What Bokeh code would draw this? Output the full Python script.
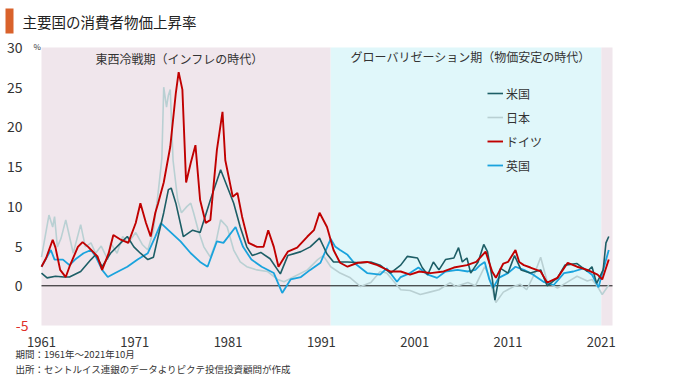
from bokeh.plotting import figure
from bokeh.models import BoxAnnotation, Label, Legend, LegendItem, FixedTicker, Range1d
from bokeh.embed import file_html
from bokeh.resources import INLINE

# ---- data ----
us_year = [1961.0, 1961.6, 1962.5, 1963.4, 1964.0, 1965.2, 1966.3, 1966.8, 1967.5, 1968.4,
           1969.5, 1970.2, 1970.9, 1971.6, 1972.4, 1973.0, 1973.5, 1974.1, 1974.6, 1974.9,
           1975.4, 1976.2, 1977.2, 1978.0, 1979.1, 1980.2, 1980.9, 1981.6, 1982.3, 1983.0,
           1983.6, 1984.5, 1985.5, 1986.6, 1987.4, 1988.8, 1989.8, 1990.8, 1991.6, 1992.3,
           1993.8, 1995.2, 1996.3, 1997.3, 1998.4, 1999.5, 2000.2, 2001.3, 2001.8, 2002.4,
           2003.0, 2003.6, 2004.3, 2005.2, 2005.7, 2006.1, 2006.6, 2007.0, 2007.8, 2008.4,
           2008.8, 2009.3, 2009.6, 2010.2, 2011.0, 2011.7, 2012.4, 2013.4, 2014.5, 2015.2,
           2016.3, 2017.1, 2018.4, 2019.5, 2020.0, 2020.5, 2021.2, 2021.5, 2021.8]
us_val = [1.6, 1.0, 1.2, 1.1, 1.1, 1.8, 3.3, 3.9, 2.4, 4.1,
          5.4, 6.2, 4.9, 4.1, 3.3, 3.6, 6.2, 9.2, 12.1, 12.3,
          10.4, 6.2, 7.0, 6.7, 10.8, 14.6, 12.5, 10.4, 7.4, 4.9,
          3.8, 4.2, 3.4, 1.5, 3.8, 4.3, 4.9, 6.0, 4.0, 3.0,
          3.0, 2.9, 3.0, 2.6, 1.6, 2.6, 3.7, 3.5, 2.3, 1.4,
          3.0, 2.0, 3.3, 3.5, 4.8, 3.0, 3.5, 1.6, 3.0, 5.2,
          4.3, 1.0, -1.8, 2.2, 1.6, 3.8, 2.0, 1.6, 2.0, 0.0,
          1.0, 2.6, 2.8, 1.8, 2.4, 0.3, 2.0, 5.4, 6.2]

jp_year = [1961.0, 1961.8, 1962.2, 1962.4, 1962.7, 1963.1, 1963.6, 1964.0, 1964.4, 1965.2,
           1965.7, 1966.3, 1966.8, 1967.4, 1968.1, 1968.4, 1969.1, 1969.7, 1970.3, 1971.1,
           1971.8, 1972.4, 1973.0, 1973.5, 1973.9, 1974.1, 1974.4, 1974.6, 1974.8, 1975.1,
           1975.6, 1976.0, 1976.6, 1977.0, 1977.3, 1977.8, 1978.4, 1979.1, 1979.7, 1980.2,
           1980.6, 1980.9, 1981.6, 1982.3, 1983.0, 1984.1, 1985.2, 1986.3, 1987.0, 1988.0,
           1989.5, 1990.6, 1991.2, 1992.0, 1993.0, 1994.1, 1995.2, 1996.3, 1997.3, 1998.0,
           1999.5, 2000.5, 2001.6, 2002.6, 2003.6, 2004.8, 2005.4, 2006.7, 2007.5, 2008.5,
           2008.9, 2009.7, 2010.5, 2011.6, 2012.3, 2013.0, 2013.8, 2014.5, 2015.2, 2016.3,
           2017.4, 2018.4, 2019.5, 2020.0, 2020.6, 2021.1, 2021.8]
jp_val = [3.6, 8.9, 7.4, 8.7, 4.9, 6.0, 8.3, 6.2, 4.1, 7.7,
          4.9, 5.4, 4.1, 5.0, 3.3, 5.4, 4.1, 6.2, 5.4, 6.7,
          5.2, 4.5, 7.0, 11.7, 16.0, 25.0, 22.5, 24.0, 24.7, 15.8,
          10.8, 9.2, 10.0, 10.4, 9.2, 7.0, 4.9, 3.6, 5.5, 8.3,
          7.8, 7.4, 4.5, 3.0, 2.4, 2.0, 1.8, 0.8, 0.5, 1.1,
          2.0, 3.3, 3.8, 2.4, 1.6, 1.0, -0.1, 0.4, 1.8, 1.6,
          -0.5, -0.6, -1.1, -0.8, -0.5, 0.4, -0.1, 0.4, 0.0, 2.4,
          1.4, -2.1, -0.8, -0.1, 0.2, -0.5, 1.4, 3.6, 0.5, -0.3,
          0.5, 1.2, 0.6, 0.8, -0.1, -1.1, 0.1]

de_year = [1961.0, 1961.5, 1962.2, 1962.5, 1963.0, 1963.6, 1964.0, 1964.9, 1965.4, 1966.0,
           1967.0, 1967.5, 1968.2, 1968.7, 1969.5, 1970.3, 1971.1, 1971.6, 1972.2, 1972.7,
           1973.2, 1973.5, 1974.1, 1974.8, 1975.4, 1975.7, 1976.1, 1976.5, 1977.0, 1977.5,
           1978.0, 1978.6, 1979.1, 1979.8, 1980.4, 1980.7, 1981.5, 1982.0, 1982.5, 1983.2,
           1984.1, 1984.8, 1985.3, 1985.9, 1986.4, 1987.4, 1988.4, 1989.5, 1990.2, 1990.8,
           1991.6, 1992.3, 1993.0, 1993.8, 1994.9, 1995.9, 1997.0, 1998.4, 1999.5, 2000.5,
           2001.5, 2002.7, 2004.1, 2005.2, 2006.6, 2007.6, 2008.6, 2009.3, 2009.7, 2010.5,
           2011.0, 2011.8, 2012.2, 2012.7, 2013.4, 2014.5, 2015.2, 2016.3, 2017.4, 2018.4,
           2019.5, 2020.6, 2021.1, 2021.8]
de_val = [2.4, 3.5, 5.8, 4.8, 2.0, 1.1, 2.4, 4.9, 5.5, 4.9,
          3.7, 2.0, 4.1, 6.4, 5.8, 5.4, 7.9, 10.4, 7.9, 6.2,
          9.2, 10.4, 13.0, 17.5, 24.3, 26.9, 24.7, 13.0, 15.5, 17.7,
          10.8, 7.9, 8.3, 17.1, 21.9, 15.8, 11.2, 11.7, 8.7, 5.4,
          4.9, 4.9, 7.0, 4.9, 2.4, 4.3, 4.8, 6.2, 7.0, 9.2,
          7.4, 4.5, 2.9, 2.4, 2.9, 3.0, 2.6, 1.8, 1.8, 1.4,
          1.8, 1.6, 1.8, 2.3, 2.6, 3.0, 4.3, 1.8, 1.0, 2.8,
          3.0, 4.5, 3.0, 2.6, 2.3, 1.8, 0.4, 1.0, 2.9, 2.4,
          2.0, 1.4, 0.8, 3.3]

uk_year = [1961.0, 1962.0, 1962.4, 1963.3, 1964.0, 1964.6, 1965.5, 1966.3, 1966.8, 1967.5,
           1968.1, 1968.9, 1970.2, 1971.3, 1972.4, 1973.2, 1973.8, 1974.6, 1975.9, 1977.0,
           1978.0, 1978.8, 1979.8, 1980.5, 1981.8, 1982.6, 1983.5, 1984.6, 1985.9, 1986.8,
           1987.7, 1988.8, 1989.8, 1990.9, 1992.0, 1992.5, 1993.0, 1993.8, 1994.5, 1995.9,
           1997.3, 1998.0, 1999.1, 1999.5, 2000.5, 2001.4, 2002.4, 2003.4, 2004.3, 2005.6,
           2006.7, 2007.5, 2008.0, 2008.5, 2009.0, 2009.4, 2010.0, 2011.0, 2011.8, 2012.7,
           2013.7, 2014.8, 2015.9, 2017.0, 2018.0, 2019.1, 2020.0, 2020.7, 2021.2, 2021.8]
uk_val = [2.4, 4.5, 3.3, 3.3, 2.6, 3.3, 4.1, 4.5, 3.7, 2.0,
          1.1, 1.6, 2.4, 3.3, 4.1, 6.2, 7.9, 7.0, 5.6, 4.1,
          3.0, 2.4, 5.6, 5.4, 7.4, 4.9, 3.3, 2.4, 1.6, -0.9,
          0.8, 1.1, 2.0, 2.9, 5.9, 4.9, 4.5, 3.9, 2.9, 1.6,
          1.4, 2.2, 0.5, 1.1, 1.6, 2.3, 1.4, 1.0, 1.8, 2.0,
          1.8, 2.0, 2.6, 3.0, 0.8, -0.3, 1.0, 1.6, 2.4, 2.0,
          1.4, 0.5, 0.1, 1.6, 1.8, 2.2, 1.4, -0.2, 2.0, 4.5]

x_ticks = [1961, 1971, 1981, 1991, 2001, 2011, 2021]
y_ticks = [-5, 0, 5, 10, 15, 20, 25, 30]
series_names = ["米国", "日本", "ドイツ", "英国"]
cold_war = (1961.0, 1992.0)
globalization = (1992.0, 2021.0)
x_end = 2022.2
y_min, y_max = -5, 30

# ---- layout: the frame covers the whole canvas; axes sit at fixed data locations ----
W, H = 680, 378
PL, PR, PT, PB = 41, 612, 47, 325          # pixel box of the data area
sx = (PR - PL) / (x_end - cold_war[0])
sy = (PB - PT) / (y_max - y_min)
x_range = Range1d(cold_war[0] - PL / sx, cold_war[0] + (W - PL) / sx)
y_range = Range1d(y_max - (H - PT) / sy, y_max + PT / sy)

JP = "Noto Sans CJK JP"
TXT = "#333333"
PINK = "#f0e6ec"
CYAN = "#e0f7fa"
C_US = "#1d5e66"
C_JP = "#b9d0d3"
C_DE = "#c00000"
C_UK = "#1aa3dd"

p = figure(width=W, height=H, output_backend="svg", toolbar_location=None,
           x_range=x_range, y_range=y_range, min_border=0)
p.title.visible = False
p.grid.visible = False
p.outline_line_color = None
p.background_fill_color = "white"
p.border_fill_color = "white"

for ax in (p.xaxis[0], p.yaxis[0]):
    ax.axis_line_color = None
    ax.major_tick_line_color = None
    ax.minor_tick_line_color = None
    ax.major_label_text_font = JP
    ax.major_label_text_color = TXT
    ax.major_label_text_font_size = "13px"
p.xaxis.ticker = FixedTicker(ticks=x_ticks)
p.yaxis.ticker = FixedTicker(ticks=y_ticks)
p.xaxis.fixed_location = y_min
p.yaxis.fixed_location = cold_war[0]
p.yaxis.major_label_overrides = {-5: ""}
p.yaxis.major_label_standoff = 13
p.xaxis.major_label_standoff = 5
p.yaxis.major_label_text_font_size = "14px"

for (l, r, c) in [(cold_war[0], cold_war[1], PINK), (globalization[0], globalization[1], CYAN),
                  (globalization[1], x_end, PINK)]:
    p.add_layout(BoxAnnotation(left=l, right=r, bottom=y_min, top=y_max, fill_color=c,
                               fill_alpha=1, line_color=None, level="underlay"))
# zero line across the data area only
p.segment(x0=[cold_war[0]], x1=[x_end], y0=[0], y1=[0], line_color="#111111", line_width=1)

r_jp = p.line(jp_year, jp_val, line_color=C_JP, line_width=1.6)
r_uk = p.line(uk_year, uk_val, line_color=C_UK, line_width=1.8)
r_us = p.line(us_year, us_val, line_color=C_US, line_width=1.6)
r_de = p.line(de_year, de_val, line_color=C_DE, line_width=1.9)

legend = Legend(items=[LegendItem(label=series_names[0], renderers=[r_us]),
                       LegendItem(label=series_names[1], renderers=[r_jp]),
                       LegendItem(label=series_names[2], renderers=[r_de]),
                       LegendItem(label=series_names[3], renderers=[r_uk])],
                location=(487, H - 83 - 92), padding=0, margin=0, spacing=4, label_standoff=3,
                glyph_width=16, glyph_height=20, label_height=20,
                label_text_font=JP, label_text_font_size="12px", label_text_color=TXT,
                border_line_color=None, background_fill_alpha=0)
p.add_layout(legend)

def lab(px, py, text, size, color=TXT, align="left"):
    # px, py: page pixels from the top-left corner
    p.add_layout(Label(x=px, y=H - py, x_units="screen", y_units="screen", text=text,
                       text_font=JP, text_font_size=size, text_color=color,
                       text_align=align, text_baseline="middle"))

# title with its orange bar
p.add_layout(BoxAnnotation(left=5, right=13, bottom=H - 33, top=H - 8,
                           left_units="screen", right_units="screen",
                           bottom_units="screen", top_units="screen",
                           fill_color="#d9622b", fill_alpha=1, line_color=None))
lab(22, 21, "主要国の消費者物価上昇率", "14.5px", color="#222222")
lab(33, 46, "%", "8px")
p.add_layout(Label(x=cold_war[0], y=y_min, x_offset=-13, text="-5", text_font=JP,
                   text_font_size="14px", text_color="#e0302a", text_align="right",
                   text_baseline="middle"))
lab(179, 58, "東西冷戦期（インフレの時代）", "12px", align="center")
lab(470, 56, "グローバリゼーション期（物価安定の時代）", "12px", align="center")
lab(15, 353, "期間：1961年～2021年10月", "9.5px")
lab(15, 368, "出所：セントルイス連銀のデータよりピクテ投信投資顧問が作成", "9.5px")

open("out.html", "w").write(file_html(p, INLINE))
